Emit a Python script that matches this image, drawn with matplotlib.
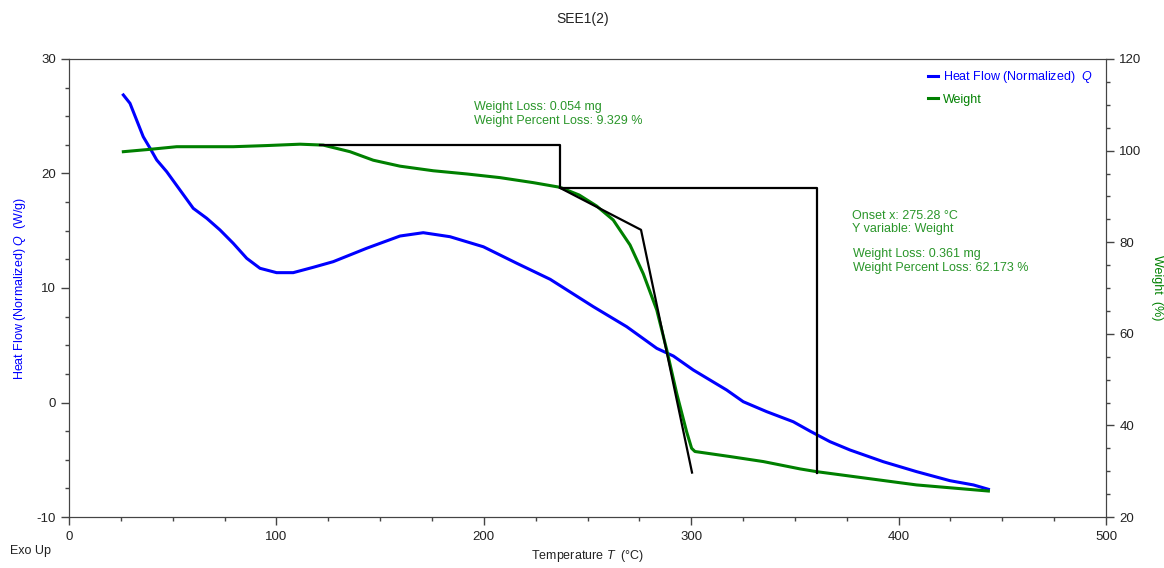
import matplotlib
matplotlib.use("Agg")
import matplotlib.pyplot as plt
from matplotlib.ticker import MultipleLocator

plt.rcParams['font.family'] = ['Liberation Sans', 'DejaVu Sans']
plt.rcParams['mathtext.fontset'] = 'custom'
plt.rcParams['mathtext.it'] = 'Liberation Sans:italic'
plt.rcParams['axes.unicode_minus'] = False

# Heat flow (W/g) vs temperature (°C)
hf_temp = [26.2, 29.4, 32.6, 35.8, 39.1, 42.3, 47.1, 53.5, 59.9, 66.4, 72.8, 79.2,
           85.7, 92.1, 100.1, 108.1, 117.8, 127.4, 143.5, 159.6, 170.8, 183.7, 199.8,
           215.9, 232.0, 252.8, 268.9, 283.4, 291.4, 301.0, 317.1, 325.1, 336.4,
           349.2, 357.3, 366.9, 376.6, 392.6, 408.7, 424.8, 436.1, 443.3]
hf_value = [26.86, 26.13, 24.67, 23.21, 22.2, 21.18, 20.16, 18.56, 16.96, 16.09, 15.07,
            13.9, 12.59, 11.72, 11.34, 11.34, 11.81, 12.3, 13.47, 14.54, 14.83, 14.48,
            13.6, 12.16, 10.76, 8.37, 6.62, 4.73, 4.06, 2.84, 1.09, 0.07, -0.8,
            -1.68, -2.5, -3.42, -4.15, -5.17, -6.04, -6.83, -7.2, -7.58]

# Weight (%) vs temperature (°C)
wt_temp = [26.2, 39.1, 51.9, 79.2, 95.3, 111.4, 122.6, 135.5, 146.7, 159.6, 175.6,
           191.8, 207.8, 223.9, 236.7, 246.0, 254.4, 262.4, 270.5, 276.9, 283.4,
           288.2, 293.0, 297.8, 300.2, 301.8, 318.7, 334.8, 352.5, 360.5, 384.6,
           408.7, 443.3]
wt_value = [99.76, 100.28, 100.85, 100.85, 101.1, 101.4, 101.2, 99.76, 97.9, 96.6,
            95.6, 94.9, 94.1, 93.0, 91.99, 90.3, 87.9, 84.85, 79.4, 73.1, 65.2,
            56.5, 47.0, 38.6, 35.0, 34.3, 33.2, 32.1, 30.5, 29.9, 28.45,
            27.0, 25.67]

# Step analysis markers
step_start_temp = 121.0
step1_end_temp = 236.7
step2_end_temp = 360.7
level_start = 101.2
loss1_pct = 9.329
loss2_pct = 62.173
level_mid = level_start - loss1_pct
level_end = level_mid - loss2_pct

# Onset tangent construction
tangent_temp = [236.7, 275.8, 300.4]
tangent_wt = [91.87, 82.7, 29.7]

BLUE = '#0000ff'
GREEN = '#008000'
TEXT_GREEN = '#2a962a'

fig = plt.figure(figsize=(11.64, 5.68), dpi=100)
ax = fig.add_axes([69 / 1164, 1 - 517 / 568, (1106 - 69) / 1164, (517 - 59) / 568])
ax2 = ax.twinx()

ax.plot(hf_temp, hf_value, color=BLUE, lw=2.2, label='Heat Flow (Normalized)  $\\it{Q}$',
        zorder=3, solid_joinstyle='round')
ax2.plot(wt_temp, wt_value, color=GREEN, lw=2.2, label='Weight', zorder=3,
         solid_joinstyle='round')

# Step lines
ax2.plot([step_start_temp, step1_end_temp, step1_end_temp, step2_end_temp, step2_end_temp],
         [level_start, level_start, level_mid, level_mid, level_end],
         color='black', lw=1.6, zorder=4)
ax2.plot(tangent_temp, tangent_wt, color='black', lw=1.6, zorder=4)

ax.set_xlim(0, 500)
ax.set_ylim(-10, 30)
ax2.set_ylim(20, 120)

ax.xaxis.set_major_locator(MultipleLocator(100))
ax.xaxis.set_minor_locator(MultipleLocator(25))
ax.yaxis.set_major_locator(MultipleLocator(10))
ax.yaxis.set_minor_locator(MultipleLocator(2.5))
ax2.yaxis.set_major_locator(MultipleLocator(20))
ax2.yaxis.set_minor_locator(MultipleLocator(5))

for a in (ax, ax2):
    a.tick_params(which='major', length=6, width=1, color='#444444', labelsize=9.5,
                  labelcolor='#222222', direction='out')
    a.tick_params(which='minor', length=3, width=1, color='#444444', direction='out')
    for s in a.spines.values():
        s.set_color('#444444')
ax.tick_params(axis='x', pad=4)

# Axis titles placed explicitly in figure space
fig.text(20 / 1164, 1 - 288 / 568, 'Heat Flow (Normalized) $\\it{Q}$  (W/g)', color=BLUE,
         fontsize=9, rotation=90, ha='center', va='center')
fig.text(1157 / 1164, 1 - 288 / 568, 'Weight  (%)', color=GREEN,
         fontsize=9, rotation=270, ha='center', va='center')
ax.set_xlabel('Temperature $\\it{T}$  (°C)', fontsize=9, labelpad=4, color='#222222')

fig.text(583 / 1164, 1 - 19 / 568, 'SEE1(2)', ha='center', va='center', fontsize=10, color='#222222')
fig.text(10 / 1164, 1 - 551 / 568, 'Exo Up', ha='left', va='center', fontsize=9, color='#222222')

ax2.text(195.5, 108.0, 'Weight Loss: 0.054 mg\nWeight Percent Loss: 9.329 %',
         color=TEXT_GREEN, fontsize=9, va='center', ha='left', linespacing=1.2)
ax2.text(377.5, 84.3, 'Onset x: 275.28 °C\nY variable: Weight',
         color=TEXT_GREEN, fontsize=9, va='center', ha='left', linespacing=1.2)
ax2.text(378.0, 75.9, 'Weight Loss: 0.361 mg\nWeight Percent Loss: 62.173 %',
         color=TEXT_GREEN, fontsize=9, va='center', ha='left', linespacing=1.2)

h1, l1 = ax.get_legend_handles_labels()
h2, l2 = ax2.get_legend_handles_labels()
leg = ax2.legend(h1 + h2, l1 + l2, loc='upper right', bbox_to_anchor=(0.998, 1.003),
                 frameon=False, handlelength=0.8, handletextpad=0.4, labelspacing=0.7,
                 fontsize=9, labelcolor='linecolor')

fig.savefig('out.png', dpi=100)
